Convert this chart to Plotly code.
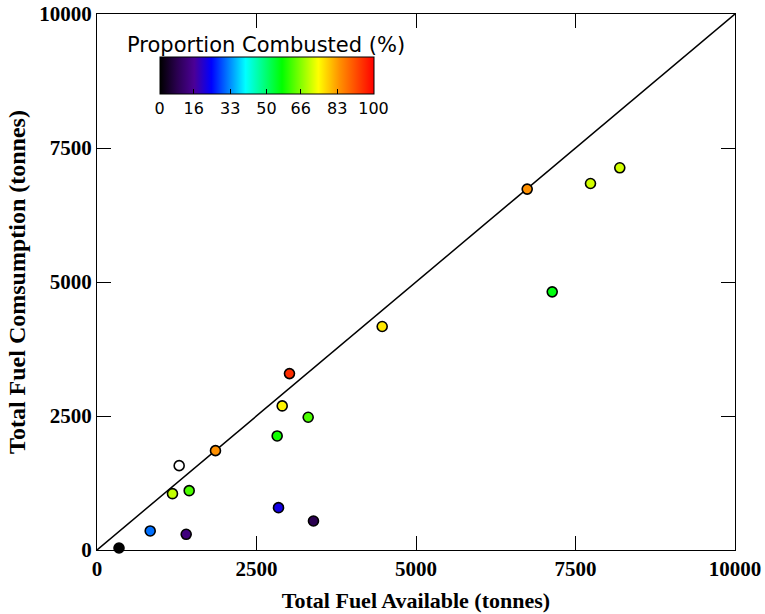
import plotly.graph_objects as go

# Data
fuel_available = [345, 834, 1398, 1183, 1445, 1857, 3017, 2903, 3310, 2824, 2845, 3393, 4470, 6743, 7735, 8194, 7135]
fuel_consumed = [37, 355, 293, 1051, 1107, 1854, 3291, 2688, 2477, 2128, 790, 541, 4170, 6733, 6838, 7131, 4816]
proportion = [0, 31, 13, 70, 62, 84, 95, 75, 62, 58, 22, 8, 76, 84, 71, 71, 56]

white_x = [1288]
white_y = [1574]

cbar_ticks = [0, 16, 33, 50, 66, 83, 100]
axis_ticks = [0, 2500, 5000, 7500, 10000]
axis_ticktext = ["0", "2500", "5000", "7500", "10000"]

rainbow = [
    [0.0, "#000000"],
    [0.08, "#2a0050"],
    [0.16, "#4b0096"],
    [0.24, "#0000ff"],
    [0.40, "#00ffff"],
    [0.57, "#00ff00"],
    [0.74, "#ffff00"],
    [0.84, "#ff9000"],
    [1.0, "#ff0000"],
]

fig = go.Figure()

fig.add_trace(go.Scatter(
    x=[0, 10000], y=[0, 10000], mode="lines",
    line=dict(color="black", width=1.5), showlegend=False, hoverinfo="skip",
))

fig.add_trace(go.Scatter(
    x=fuel_available, y=fuel_consumed, mode="markers",
    marker=dict(
        size=10, color=proportion, colorscale=rainbow, cmin=0, cmax=100,
        line=dict(color="black", width=1.6),
        colorbar=dict(
            orientation="h",
            x=0.098, xanchor="left",
            y=0.920, yanchor="top",
            len=214, lenmode="pixels",
            thickness=37, thicknessmode="pixels",
            outlinecolor="black", outlinewidth=1,
            tickvals=cbar_ticks,
            ticks="inside", ticklen=5, tickcolor="black",
            tickfont=dict(family="DejaVu Sans", size=16, color="black"),
            xpad=0, ypad=0,
        ),
    ),
    showlegend=False, cliponaxis=False,
))

fig.add_trace(go.Scatter(
    x=white_x, y=white_y, mode="markers",
    marker=dict(size=10, color="white", line=dict(color="black", width=1.6)),
    showlegend=False,
))

axis_common = dict(
    range=[0, 10000], tickvals=axis_ticks, ticktext=axis_ticktext,
    ticks="inside", ticklen=14, automargin=False,
    tickcolor="black", showline=True, linecolor="black", linewidth=1.2,
    mirror="ticks", showgrid=False, zeroline=False,
    tickfont=dict(family="Liberation Serif", size=21, color="black", weight="bold"),
)

fig.update_layout(
    width=765, height=614,
    margin=dict(l=97, r=30, t=14, b=64),
    plot_bgcolor="white", paper_bgcolor="white",
    xaxis=dict(**axis_common,
               title=dict(text="Total Fuel Available (tonnes)", standoff=12,
                          font=dict(family="Liberation Serif", size=22, color="black", weight="bold"))),
    yaxis=dict(**axis_common,
               title=dict(text="Total Fuel Comsumption (tonnes)", standoff=6,
                          font=dict(family="Liberation Serif", size=24, color="black", weight="bold"))),
    annotations=[dict(
        text="Proportion Combusted (%)", xref="paper", yref="paper",
        x=(266 - 97) / 638, y=(550 - 45) / 536, xanchor="center", yanchor="middle",
        showarrow=False, font=dict(family="DejaVu Sans", size=21, color="black"),
    )],
)

fig.write_html("out.html")
